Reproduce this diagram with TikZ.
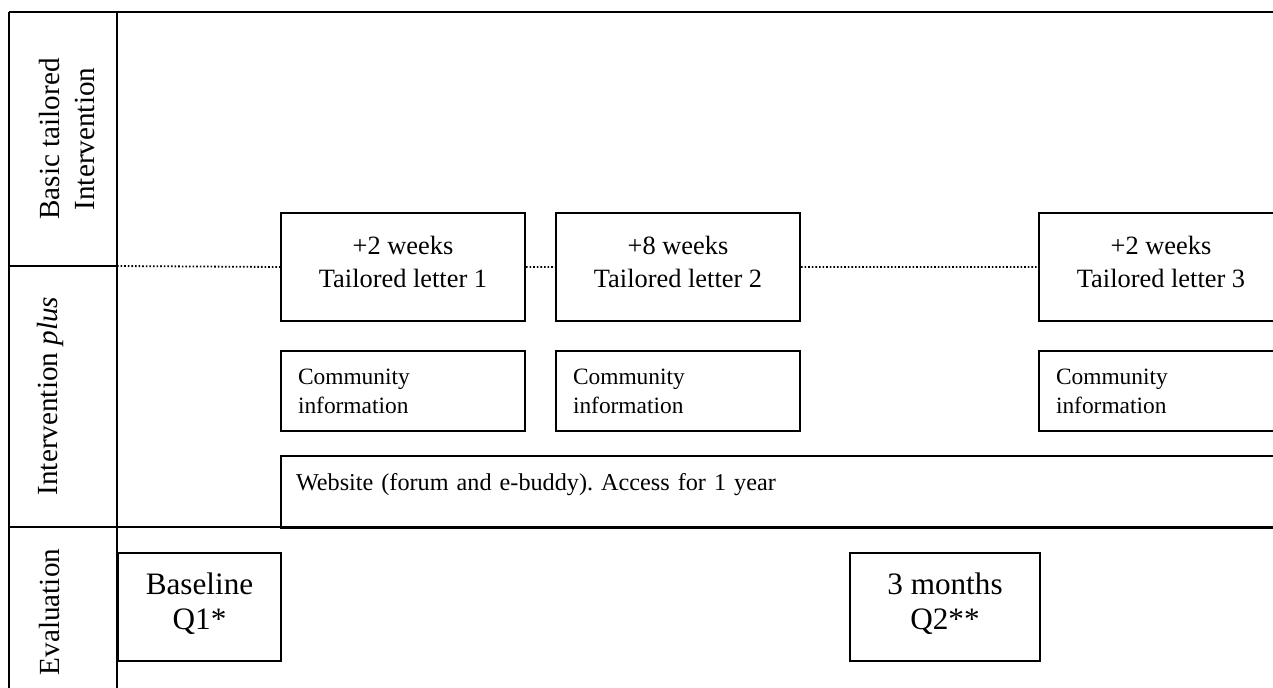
\documentclass[tikz,border=0pt]{standalone}
\usepackage{fontspec}
\setmainfont{Liberation Serif}
\frenchspacing
\usetikzlibrary{positioning}
\tikzset{
x=0.5pt, y=-0.5pt, % one unit per pixel of the layout, y going down
frame/.style={line width=1pt}, % the rules of the table
dots/.style={line width=0.9pt, dash pattern=on 0.8pt off 1pt}, % the dotted timeline
letterbox/.style={draw, line width=1pt, minimum width=122pt, minimum height=54pt, text depth=5pt, align=center, font=\fontsize{13.2}{16.5}\selectfont}, % the tailored letters
infobox/.style={draw, line width=1pt, minimum height=40pt, text width=105pt, inner xsep=8.5pt, align=left, font=\fontsize{11.7}{14.5}\selectfont}, % community information
evalbox/.style={draw, line width=1pt, minimum height=54pt, text depth=6pt, align=center, font=\fontsize{15.6}{17.5}\selectfont}, % questionnaires
rowlabel/.style={rotate=90, align=center, font=\fontsize{14.6}{17.5}\selectfont}, % the labels of the rows
}
\begin{document}
\begin{tikzpicture}
    \clip (0,0) rectangle (1273,687);
    % table rules
    \draw[frame] (9,12) -- (1300,12)
      (9,12) -- (9,700)
      (117,12) -- (117,700)
      (9,266) -- (117,266)
      (9,527) -- (1300,527);
    \coordinate (rowsep) at (117,266);
    % row labels
    \node[rowlabel] (basic) at (67,139) {Basic tailored\\Intervention};
    \node[rowlabel] (plus) at (50,396) {Intervention \textit{plus}};
    \node[rowlabel] (evaluation) at (50,612) {Evaluation};
    % letters
    \node[letterbox, anchor=north west] (let1) at (280,212) {+2 weeks\\Tailored letter 1};
    \node[letterbox, right=14.5pt of let1] (let2) {+8 weeks\\Tailored letter 2};
    \node[letterbox, anchor=north west] (let3) at (1038,212) {+2 weeks\\Tailored letter 3};
    \node[infobox, below=14pt of let1] (info1) {Community\\information};
    \node[infobox, below=14pt of let2] (info2) {Community\\information};
    \node[infobox, below=14pt of let3] (info3) {Community\\information};
    \node[draw, line width=1pt, anchor=north west, minimum height=36pt, text width=585pt, text depth=10pt, inner xsep=7.5pt, align=left, font=\fontsize{12.1}{15}\selectfont] (web) at (280,455) {Website (forum and e-buddy). Access for 1 year};
    % questionnaires
    \node[evalbox, anchor=north west, minimum width=81.5pt] (q1) at (117,552) {Baseline\\Q1*};
    \node[evalbox, anchor=north west, minimum width=95pt] (q2) at (849,552) {3 months\\Q2**};
    \draw[dots] (rowsep) -- (let1.west)
      (let1.east) -- (let2.west)
      (let2.east) -- (let3.west);
\end{tikzpicture}
\end{document}
